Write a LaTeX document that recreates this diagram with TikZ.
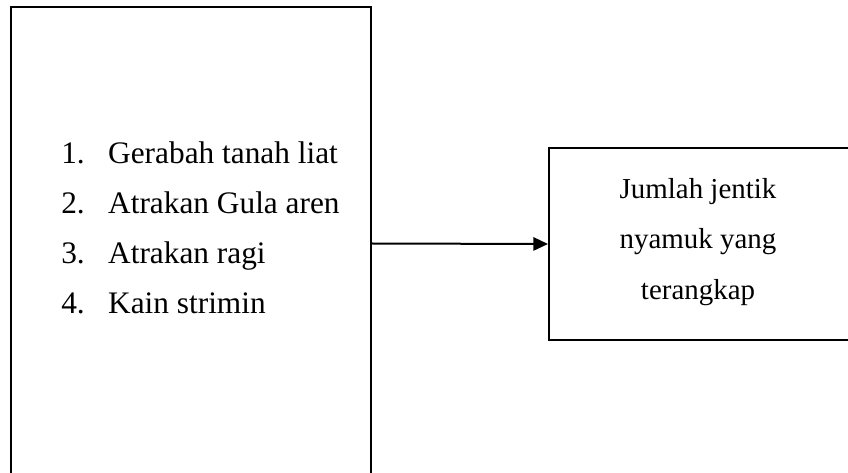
\documentclass[tikz,border=0pt]{standalone}
\usepackage{fontspec}
\setmainfont{Liberation Serif}
\usetikzlibrary{arrows.meta}

\begin{document}
\begin{tikzpicture}[x=0.75pt, y=-0.75pt,
  kotak/.style={draw, line width=1.5pt, inner sep=0pt},
  teks/.style={inner sep=0pt},
  panah/.style={line width=1.5pt, -{Triangle[length=11pt, width=10pt]}}]

\useasboundingbox (0,0) rectangle (848,473);

% kotak variabel bebas (bawahnya terpotong)
\node[kotak, minimum width=270pt, minimum height=355pt] (bebas) at (191,243.5) {};

% kotak variabel terikat (kanannya terpotong)
\node[kotak, minimum width=226.5pt, minimum height=144pt] (terikat) at (700,244) {};

% daftar perlakuan
\node[teks, anchor=west, font=\fontsize{23.5}{37.5}\selectfont] (daftar) at (61,229) {%
  \begin{tabular}{@{}l@{\hspace{17.6pt}}l@{}}
  1. & Gerabah tanah liat\\
  2. & Atrakan Gula aren\\
  3. & Atrakan ragi\\
  4. & Kain strimin
  \end{tabular}};

% hasil pengamatan
\node[teks, align=center, font=\fontsize{21.7}{38}\selectfont] (jentik) at (698,242) {Jumlah jentik\\ nyamuk yang\\ terangkap};

\draw[panah] (bebas.east) -- (terikat.west);

\end{tikzpicture}
\end{document}
